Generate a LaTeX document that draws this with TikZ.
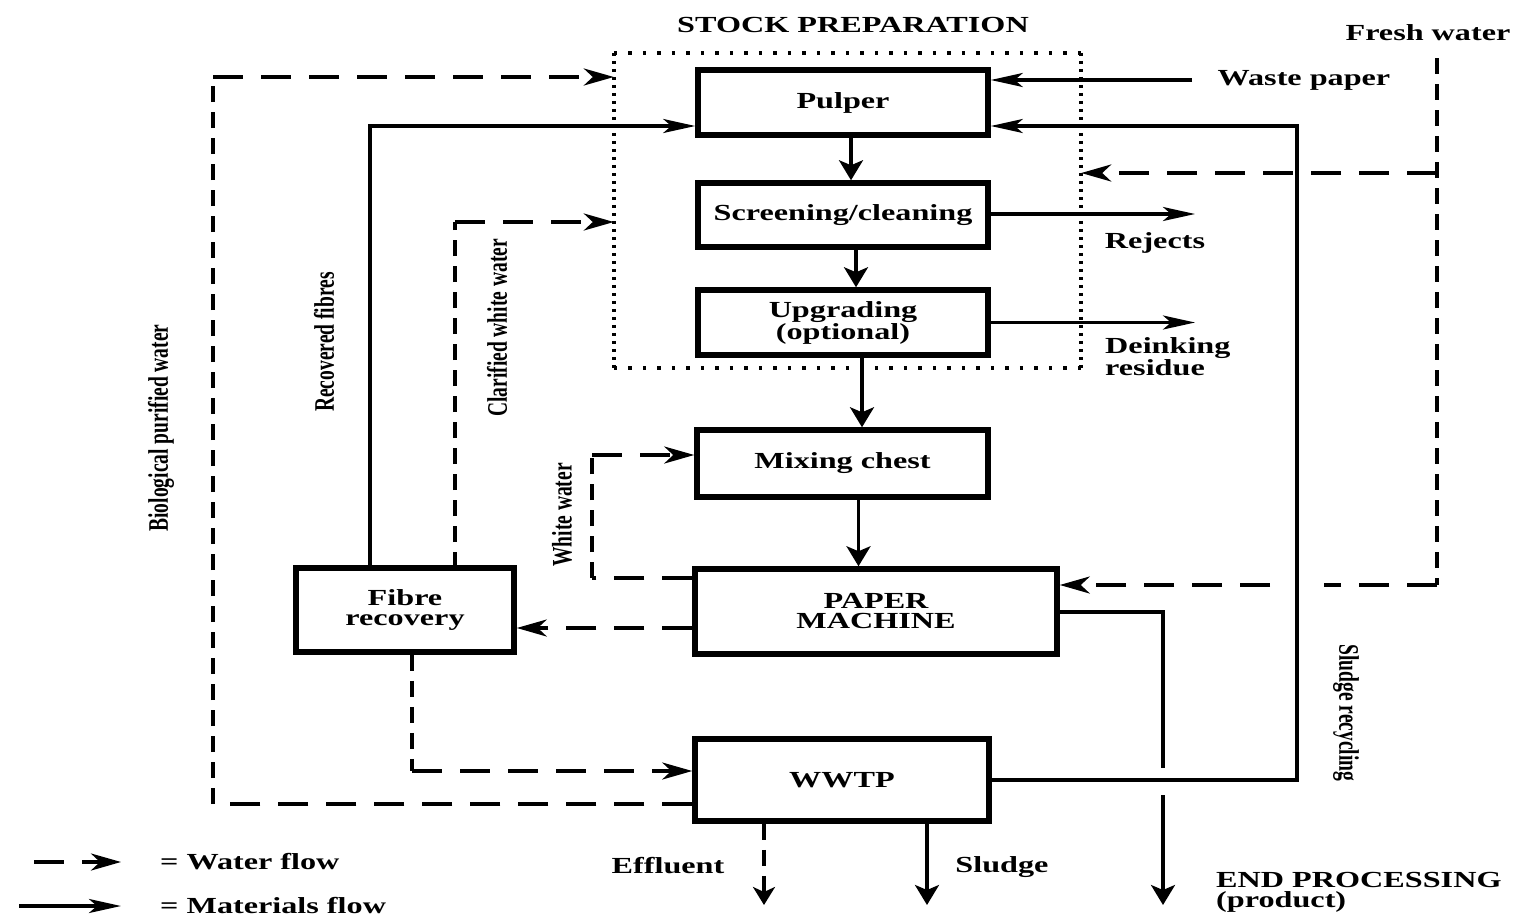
\documentclass[tikz,border=0pt]{standalone}
\usepackage{fontspec}
\usepackage{graphicx}
\usetikzlibrary{arrows.meta}
\newfontfamily\mf{Liberation Serif}[FakeStretch=1.4]
\newfontfamily\rf{Liberation Serif}
\newcommand{\rtxt}[1]{\scalebox{1}[1.45]{#1}}
\begin{document}
\begin{tikzpicture}[x=1pt,y=-1pt,
  box/.style={draw, line width=5.5pt, inner sep=0pt, align=center, font=\mf\bfseries\fontsize{23}{20}\selectfont},
  lbl/.style={inner sep=0pt, align=left, font=\mf\bfseries\fontsize{23}{20}\selectfont},
  rlbl/.style={inner sep=0pt, font=\rf\bfseries\fontsize{19.5}{19.5}\selectfont},
  matl/.style={line width=3.2pt},
  math/.style={matl, -{Stealth[length=32pt,width=14pt,inset=8pt]}},
  matv/.style={matl, -{Stealth[length=20pt,width=24pt,inset=5pt]}},
  wh/.style={line width=3.6pt, dash pattern=on 30pt off 18pt},
  wv/.style={line width=4.5pt, dash pattern=on 16pt off 10pt},
  wha/.style={wh, -{Stealth[length=30pt,width=17pt,inset=9pt]}},
  wva/.style={wv, -{Stealth[length=18pt,width=22pt,inset=5pt]}},
  doth/.style={line width=3.5pt, dash pattern=on 3.5pt off 11pt},
  dotv/.style={line width=3.5pt, dash pattern=on 3pt off 5pt},
]
\useasboundingbox (0,0) rectangle (1526,921);
% boxes
\node[box, minimum width=290pt, minimum height=65pt] (pulp) at (843,102.5) {Pulper};
\node[box, minimum width=290pt, minimum height=64pt] (scr) at (843,215) {Screening/cleaning};
\node[box, minimum width=290pt, minimum height=65pt] (upg) at (843,322.5) {Upgrading\\(optional)};
\node[box, minimum width=291pt, minimum height=67pt] (mix) at (842.5,463.5) {Mixing chest};
\node[box, minimum width=362pt, minimum height=85pt] (pm) at (876,611.5) {PAPER\\MACHINE};
\node[box, minimum width=218pt, minimum height=84pt] (fib) at (405,610) {Fibre\\recovery};
\node[box, minimum width=294pt, minimum height=82pt] (wwtp) at (842,780) {WWTP};
% stock preparation dotted frame
\node[inner sep=0pt, minimum width=467pt, minimum height=315pt] (stock) at (847.5,210.5) {};
\draw[doth] (stock.north west) -- (stock.north east);
\draw[doth] (stock.south west) -- (stock.south east);
\draw[dotv] (stock.north west) -- (stock.south west);
\draw[dotv] (stock.north east) -- (stock.south east);
% labels
\node[lbl] (stocklbl) at (853,25) {STOCK PREPARATION};
\node[lbl] (freshlbl) at (1428,33) {Fresh water};
\node[lbl] (wastelbl) at (1304,80) {Waste paper};
\node[lbl] (rejlbl) at (1155,243) {Rejects};
\node[lbl, anchor=west] (deinklbl) at (1105,357) {Deinking\\residue};
\node[lbl] (efflbl) at (668,866) {Effluent};
\node[lbl] (sludlbl) at (1002,867) {Sludge};
\node[lbl, anchor=west] (endlbl) at (1216,892) {END PROCESSING\\(product)};
\node[lbl, anchor=west] (lgw) at (160,862) {= Water flow};
\node[lbl, anchor=west] (lgm) at (160,906) {= Materials flow};
\node[rlbl, rotate=90] (recfib) at (324,342) {\rtxt{Recovered fibres}};
\node[rlbl, rotate=90] (clar) at (497,328) {\rtxt{Clarified white water}};
\node[rlbl, rotate=90] (bio) at (161,428) {\rtxt{Biological purified water}};
\node[rlbl, rotate=90] (white) at (562,515) {\rtxt{White water}};
\node[rlbl, rotate=-90] (sludrec) at (1346,713) {\rtxt{Sludge recycling}};
% coordinates
\coordinate (wpS) at (1192,80);
\coordinate (rejE) at (1195,214);
\coordinate (deiE) at (1195,322.5);
\coordinate (sr) at (1297,126);
\coordinate (ep0) at (1163,612);
\coordinate (ep1) at (1163,768);
\coordinate (ep2) at (1163,795);
\coordinate (ep3) at (1163,905);
\coordinate (fwT) at (1437,58);
\coordinate (fwM) at (1437,173);
\coordinate (fwB) at (1437,585);
\coordinate (gapR) at (1324,585);
\coordinate (gapL) at (1270,585);
\coordinate (bioc) at (213,77);
\coordinate (biob) at (213,804);
\coordinate (cwb) at (455,568);
\coordinate (cwc) at (455,222);
\coordinate (wwb) at (592,578);
\coordinate (wwc) at (592,455);
\coordinate (fwc) at (412,771);
\coordinate (efE) at (764,905);
\coordinate (slE) at (927,905);
\coordinate (lw1) at (34,862);
\coordinate (lw2) at (121,862);
\coordinate (lm1) at (19,906);
\coordinate (lm2) at (121,906);
% material flows
\draw[matv] ([xshift=8pt]pulp.south) -- ([xshift=8pt]pulp.south |- scr.north);
\draw[matv] ([xshift=13pt]scr.south) -- ([xshift=13pt]scr.south |- upg.north);
\draw[matv] ([xshift=19pt]upg.south) -- ([xshift=19pt]upg.south |- mix.north);
\draw[matv] ([xshift=16pt]mix.south) -- ([xshift=16pt]mix.south |- pm.north);
\draw[math] (wpS) -- (wpS -| pulp.east);
\draw[math] (scr.east |- rejE) -- (rejE);
\draw[math] (upg.east |- deiE) -- (deiE);
\draw[math] (wwtp.east) -| (sr) -- (sr -| pulp.east);
\draw[matl] (pm.east |- ep0) -- (ep0) -- (ep1);
\draw[matv] (ep2) -- (ep3);
\draw[math] ([xshift=-35pt]fib.north) |- ([yshift=-23.5pt]pulp.west);
\draw[matv] ([xshift=85pt]wwtp.south) -- (slE);
% water flows
\draw[wv] (fwT) -- (fwB);
\draw[wh] (fwB) -- (gapR);
\draw[wha] (gapL) -- (gapL -| pm.east);
\draw[wha] (fwM) -- (fwM -| stock.east);
\draw[wh] (wwtp.west |- biob) -- (biob);
\draw[wv] (biob) -- (bioc);
\draw[wha] (bioc) -- (bioc -| stock.west);
\draw[wv] (cwb) -- (cwc);
\draw[wha] (cwc) -- (cwc -| stock.west);
\draw[wh] (pm.west |- wwb) -- (wwb);
\draw[wv] (wwb) -- (wwc);
\draw[wha] (wwc) -- (wwc -| mix.west);
\draw[wha] ([yshift=-16.5pt]pm.west) -- ([yshift=-16.5pt]pm.west -| fib.east);
\draw[wv] ([xshift=7pt]fib.south) -- (fwc);
\draw[wha] (fwc) -- (fwc -| wwtp.west);
\draw[wva] ([xshift=-78pt]wwtp.south) -- (efE);
% legend
\draw[wha] (lw1) -- (lw2);
\draw[math] (lm1) -- (lm2);
\end{tikzpicture}
\end{document}
